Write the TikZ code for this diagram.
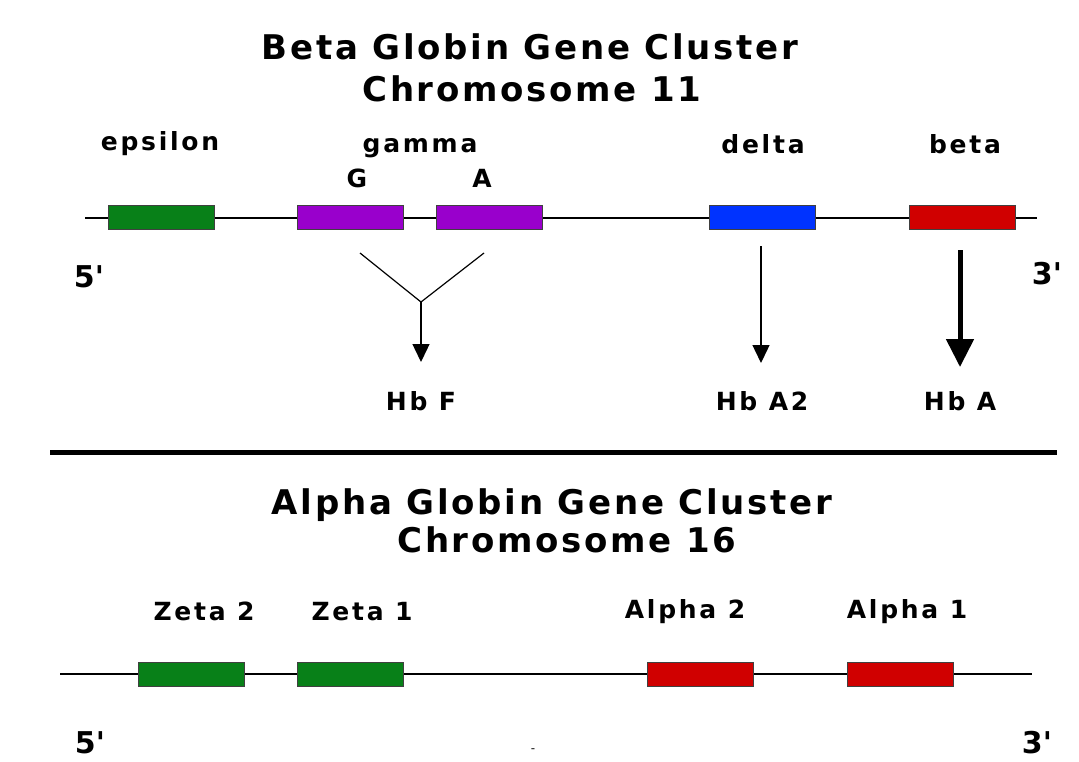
\documentclass[tikz,border=0pt]{standalone}
\usepackage{fontspec}
\setmainfont{DejaVu Sans}
\usetikzlibrary{arrows.meta}
\definecolor{genegreen}{RGB}{8,128,24}
\definecolor{genepurple}{RGB}{153,0,204}
\definecolor{geneblue}{RGB}{0,51,255}
\definecolor{genered}{RGB}{208,0,0}
\tikzset{
  gene/.style={draw=black!75, line width=1pt, minimum width=106pt, minimum height=24pt, inner sep=0pt},
  lbl/.style={anchor=base, inner sep=0pt, font=\bfseries\fontsize{25}{28}\selectfont\addfontfeatures{LetterSpace=11}},
  title/.style={anchor=base, inner sep=0pt, font=\bfseries\fontsize{34}{38}\selectfont\addfontfeatures{LetterSpace=8}},
  endlbl/.style={anchor=base, inner sep=0pt, font=\bfseries\fontsize{30}{34}\selectfont},
  thinarrow/.style={line width=1.4pt, -{Triangle[width=17pt,length=18pt]}},
  thickarrow/.style={line width=5pt, -{Triangle[width=27pt,length=28pt]}}
}
\begin{document}
\begin{tikzpicture}[x=1pt,y=-1pt]
\useasboundingbox[fill=white] (0,0) rectangle (1079,761);
\node[title] (btitle) at (530,59) {Beta Globin Gene Cluster};
\node[title] (bchrom) at (532,101) {Chromosome 11};
\coordinate (u5) at (85,218); \coordinate (u3) at (1037,218);
\draw [line width=1.2pt] (u5) -- (u3);
\node[gene, fill=genegreen] (epsilon) at (161.5,217) {};
\node[gene, fill=genepurple] (gammaG) at (350,217) {};
\node[gene, fill=genepurple] (gammaA) at (489.5,217) {};
\node[gene, fill=geneblue] (delta) at (762,217) {};
\node[gene, fill=genered] (beta) at (962,217) {};
\node[lbl] (lepsilon) at (160,150) {epsilon}; \node[lbl] (lgamma) at (420,152) {gamma};
\node[lbl] (lG) at (357,187) {G}; \node[lbl] (lA) at (482,187) {A};
\node[lbl] (ldelta) at (763,153) {delta}; \node[lbl] (lbeta) at (965,153) {beta};
\node[endlbl] (u5lbl) at (89,287) {5\textquotesingle}; \node[endlbl] (u3lbl) at (1047,284) {3\textquotesingle};
\coordinate (gl) at (360,253); \coordinate (gr) at (484,253); \coordinate (gv) at (421,302); \coordinate (gend) at (421,362);
\draw [line width=1.2pt] (gl) -- (gv) -- (gr);
\draw [thinarrow] (gv) -- (gend);
\coordinate (dstart) at (761,246); \coordinate (dend) at (761,363);
\draw [thinarrow] (dstart) -- (dend);
\coordinate (bstart) at (960,250); \coordinate (bend) at (960,367);
\draw [thickarrow] (bstart) -- (bend);
\node[lbl] (hbf) at (421,410) {Hb F}; \node[lbl] (hba2) at (762,410) {Hb A2}; \node[lbl] (hba) at (960,410) {Hb A};
\coordinate (s1) at (50,452); \coordinate (s2) at (1057,452);
\draw [line width=5pt] (s1) -- (s2);
\node[title] (atitle) at (552,514) {Alpha Globin Gene Cluster};
\node[title] (achrom) at (567,552) {Chromosome 16};
\node[lbl] (lzeta2) at (204,620) {Zeta 2}; \node[lbl] (lzeta1) at (362,620) {Zeta 1};
\node[lbl] (lalpha2) at (685,618) {Alpha 2}; \node[lbl] (lalpha1) at (907,618) {Alpha 1};
\coordinate (l5) at (60,674); \coordinate (l3) at (1032,674);
\draw [line width=2.8pt] (l5) -- (l3);
\node[gene, fill=genegreen] (zeta2) at (191.5,674.5) {};
\node[gene, fill=genegreen] (zeta1) at (350,674.5) {};
\node[gene, fill=genered] (alpha2) at (700,674.5) {};
\node[gene, fill=genered] (alpha1) at (900,674.5) {};
\node[endlbl] (l5lbl) at (90,753) {5\textquotesingle}; \node[endlbl] (l3lbl) at (1037,753) {3\textquotesingle};
\node[anchor=base, inner sep=0pt, font=\fontsize{12}{12}\selectfont] (dash) at (533,752) {-};
\end{tikzpicture}
\end{document}
